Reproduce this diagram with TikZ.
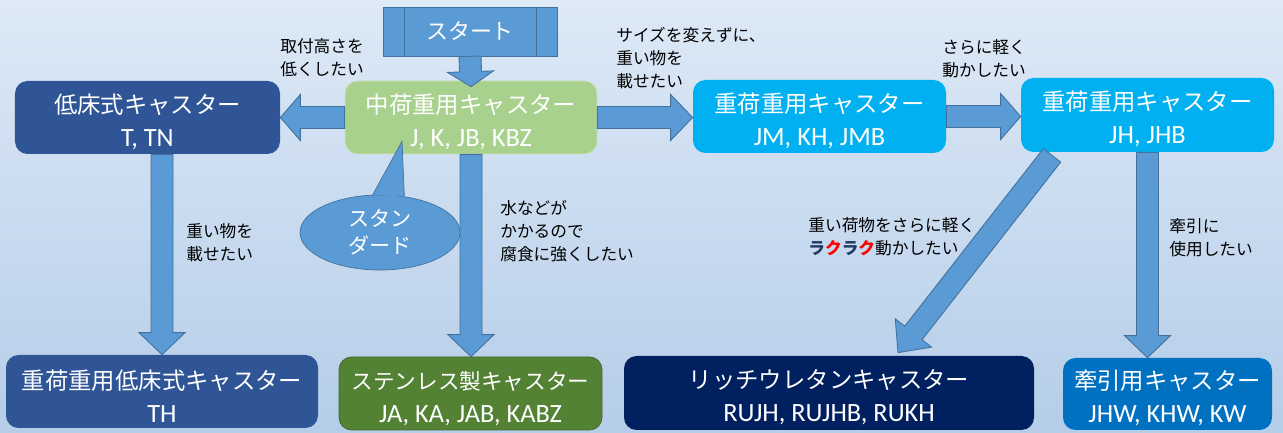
\documentclass[tikz,border=0pt]{standalone}
\usepackage{fontspec}
\setmainfont{Noto Sans CJK JP}
\newfontfamily\codefont{Carlito}
\usepackage{xcolor}
\usetikzlibrary{calc,shapes.geometric}

\definecolor{bgtop}{HTML}{DDE9F6}
\definecolor{bgbot}{HTML}{B5CDE8}
\definecolor{arrowblue}{HTML}{5B9BD5}
\definecolor{arrowedge}{HTML}{41719C}
\definecolor{midgreen}{HTML}{A9D18E}
\definecolor{lowblue}{HTML}{2F5597}
\definecolor{skyblue}{HTML}{00B0F0}
\definecolor{susgreen}{HTML}{548235}
\definecolor{richnavy}{HTML}{002060}
\definecolor{towblue}{HTML}{0070C0}
\definecolor{rakunavy}{HTML}{203864}

% two lines of a caster box: name, then codes
\newcommand{\casttext}[2]{\rule{0pt}{16pt}#1\\{\codefont\fontsize{15}{18.8}\selectfont #2}}
% block arrow from #2 to #3, #1 = head length
\newcommand{\bigarrow}[3][0.44cm]{%
  \coordinate (ba-h) at ($(#3)!#1!(#2)$);
  \draw[blockarrow] ($(#2)!0.22cm!90:(#3)$) -- ($(ba-h)!0.22cm!90:(#3)$) -- ($(ba-h)!0.46cm!90:(#3)$)
    -- (#3) -- ($(ba-h)!0.46cm!-90:(#3)$) -- ($(ba-h)!0.22cm!-90:(#3)$) -- ($(#2)!0.22cm!-90:(#3)$) -- cycle;
}

\begin{document}
\begin{tikzpicture}[
  castbox/.style={rectangle, rounded corners=0.25cm, text=white, align=center, inner sep=0pt, font=\fontsize{13.3}{18.8}\selectfont},
  note/.style={anchor=west, align=left, inner sep=0pt, font=\fontsize{9.5}{13.2}\selectfont},
  blockarrow/.style={fill=arrowblue, draw=arrowedge, line width=0.5pt}
]

% Background
\shade[top color=bgtop, bottom color=bgbot] (0,0) rectangle (25.66,8.66);
\useasboundingbox (0,0) rectangle (25.66,8.66);

% Top: start
\node[rectangle, fill=arrowblue, draw=arrowedge, minimum width=3.48cm, minimum height=0.98cm, text=white, font=\fontsize{12.5}{14}\selectfont] (start) at (9.40,8.03) {スタート};
\draw[arrowedge] ($(start.north west)+(0.44,0)$) -- ($(start.south west)+(0.44,0)$);
\draw[arrowedge] ($(start.north east)+(-0.42,0)$) -- ($(start.south east)+(-0.42,0)$);

% Middle row
\node[castbox, fill=midgreen, draw=midgreen!60!white, minimum width=5.04cm, minimum height=1.46cm] (mid) at (9.42,6.31) {\casttext{中荷重用キャスター}{J, K, JB, KBZ}};
\node[castbox, fill=lowblue, minimum width=5.30cm, minimum height=1.46cm] (low) at (2.95,6.31) {\casttext{低床式キャスター}{T, TN}};
\node[castbox, fill=skyblue, minimum width=5.06cm, minimum height=1.46cm] (jm) at (16.39,6.33) {\casttext{重荷重用キャスター}{JM, KH, JMB}};
\node[castbox, fill=skyblue, minimum width=5.06cm, minimum height=1.48cm] (jh) at (22.95,6.36) {\casttext{重荷重用キャスター}{JH, JHB}};

% Bottom row
\node[castbox, fill=lowblue, minimum width=6.24cm, minimum height=1.46cm] (th) at (3.24,0.83) {\casttext{重荷重用低床式キャスター}{TH}};
\node[castbox, fill=susgreen, draw=susgreen!80!black, minimum width=5.26cm, minimum height=1.46cm, font=\fontsize{12.3}{18.8}\selectfont] (sus) at (9.41,0.79) {\casttext{ステンレス製キャスター}{JA, KA, JAB, KABZ}};
\node[castbox, fill=richnavy, minimum width=8.20cm, minimum height=1.48cm] (rich) at (16.58,0.80) {\casttext{リッチウレタンキャスター}{RUJH, RUJHB, RUKH}};
\node[castbox, fill=towblue, minimum width=4.18cm, minimum height=1.44cm] (tow) at (23.35,0.78) {\casttext{牽引用キャスター}{JHW, KHW, KW}};

% Arrows
\coordinate (mid-in) at ($(mid.north)+(0,-0.12)$);
\coordinate (jm-in) at (mid.east -| jm.west);
\coordinate (jh-in) at (jm.east -| jh.west);
\coordinate (th-out) at (low.south -| th.north);
\coordinate (sus-in) at (mid.south |- sus.north);
\coordinate (tow-in) at (jh.south |- tow.north);
\coordinate (rich-out) at ($(jh.south)+(-1.91,-0.06)$);
\coordinate (rich-in) at ($(rich.north)+(1.38,0.06)$);
\bigarrow[0.30cm]{start.south}{mid-in}
\bigarrow[0.40cm]{mid.west}{low.east}
\bigarrow{mid.east}{jm-in}
\bigarrow[0.40cm]{jm.east}{jh-in}
\bigarrow{th-out}{th.north}
\bigarrow{mid.south}{sus-in}
\bigarrow{jh.south}{tow-in}
\bigarrow[0.50cm]{rich-out}{rich-in}

% Callout
\node[ellipse, fill=arrowblue, draw=arrowedge, minimum width=3.2cm, minimum height=1.5cm, inner sep=0pt, text=white, align=center, font=\fontsize{12}{15.5}\selectfont] (std) at (7.60,4.01) {スタン\\ダード};
\coordinate (std-tip) at ($(mid.south)+(-1.38,0.26)$);
\fill[arrowblue] (std.101) -- (std-tip) -- (std.56) -- cycle;
\draw[arrowedge] (std.101) -- (std-tip) -- (std.56);

% Labels
\node[note] (lbl-low) at (5.60,7.51) {取付高さを\\低くしたい};
\node[note] (lbl-jm) at (12.32,7.50) {サイズを変えずに、\\重い物を\\載せたい};
\node[note] (lbl-jh) at (18.84,7.48) {さらに軽く\\動かしたい};
\node[note] (lbl-th) at (3.72,3.81) {重い物を\\載せたい};
\node[note] (lbl-sus) at (10.00,4.04) {水などが\\かかるので\\腐食に強くしたい};
\node[note] (lbl-rich) at (16.16,3.93) {重い荷物をさらに軽く\\{\bfseries\color{rakunavy}ラ\color{red}ク\color{rakunavy}ラ\color{red}ク}動かしたい};
\node[note] (lbl-tow) at (23.38,3.91) {牽引に\\使用したい};

\end{tikzpicture}
\end{document}
